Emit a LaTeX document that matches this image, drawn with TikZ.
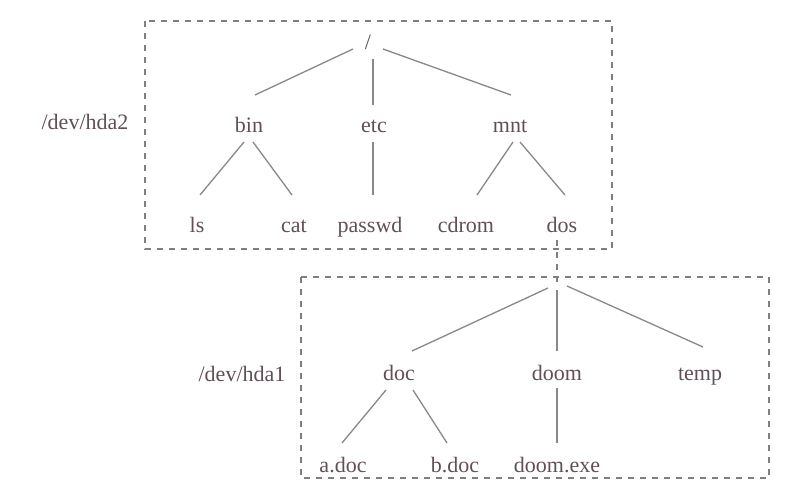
\documentclass[tikz,border=0pt]{standalone}
\usepackage{fontspec}
\setmainfont{Liberation Serif}
\definecolor{txt}{RGB}{98,78,88}
\definecolor{edgec}{RGB}{140,134,138}
\definecolor{boxc}{RGB}{128,126,128}
\begin{document}
\begin{tikzpicture}[x=1pt,y=-1pt,
  lbl/.style={text=txt,font=\fontsize{22}{26}\selectfont,inner sep=0pt,text height=14pt,text depth=0pt},
  edge/.style={draw=edgec,line width=1.3pt},
  partbox/.style={draw=boxc,line width=1.1pt,dash pattern=on 6pt off 6pt},
  mountlink/.style={draw=boxc,line width=1.1pt,dash pattern=on 6pt off 6pt}]
\useasboundingbox (0,0) rectangle (787,494);
% partition boxes
\draw[partbox] (145,21) rectangle (612,249);
\draw[partbox] (301,277) rectangle (769,478);
% labels
\node[lbl] (hda2) at (85,123) {/dev/hda2};
\node[lbl] (hda1) at (242,374) {/dev/hda1};
% top tree
\node[lbl] (root) at (368,43) {/};
\node[lbl] (bin) at (249,126) {bin};
\node[lbl] (etc) at (374,126) {etc};
\node[lbl] (mnt) at (510,126) {mnt};
\node[lbl] (ls) at (197,226) {ls};
\node[lbl] (cat) at (294,226) {cat};
\node[lbl] (passwd) at (370,226) {passwd};
\node[lbl] (cdrom) at (466,226) {cdrom};
\node[lbl] (dos) at (562,226) {dos};
% bottom tree
\coordinate (rootb) at (557,284);
\node[lbl] (doc) at (399,373) {doc};
\node[lbl] (doom) at (557,373) {doom};
\node[lbl] (temp) at (700,373) {temp};
\node[lbl] (adoc) at (343,465) {a.doc};
\node[lbl] (bdoc) at (455,465) {b.doc};
\node[lbl] (doomexe) at (557,465) {doom.exe};
% top edges
\draw[edge] ([shift={(-15,6)}]root.center) -- ([shift={(6,-31)}]bin.center);
\draw[edge] ([shift={(5,16)}]root.center) -- ([shift={(-1,-21)}]etc.center);
\draw[edge] ([shift={(15,6)}]root.center) -- ([shift={(1,-31)}]mnt.center);
\draw[edge] ([shift={(-5,16)}]bin.center) -- ([shift={(3,-31)}]ls.center);
\draw[edge] ([shift={(4,16)}]bin.center) -- ([shift={(-2,-31)}]cat.center);
\draw[edge] ([shift={(-1,16)}]etc.center) -- ([shift={(3,-31)}]passwd.center);
\draw[edge] ([shift={(3,16)}]mnt.center) -- ([shift={(11,-31)}]cdrom.center);
\draw[edge] ([shift={(10,16)}]mnt.center) -- ([shift={(3,-31)}]dos.center);
% mount link
\draw[mountlink] ([shift={(-5,14)}]dos.center) -- (rootb);
% bottom edges
\draw[edge] ([shift={(-9,4)}]rootb) -- ([shift={(13,-22)}]doc.center);
\draw[edge] ([shift={(0,6)}]rootb) -- ([shift={(0,-22)}]doom.center);
\draw[edge] ([shift={(10,2)}]rootb) -- ([shift={(3,-26)}]temp.center);
\draw[edge] ([shift={(-13,17)}]doc.center) -- ([shift={(-1,-22)}]adoc.center);
\draw[edge] ([shift={(14,17)}]doc.center) -- ([shift={(-8,-22)}]bdoc.center);
\draw[edge] ([shift={(0,15)}]doom.center) -- ([shift={(0,-22)}]doomexe.center);
\end{tikzpicture}
\end{document}
